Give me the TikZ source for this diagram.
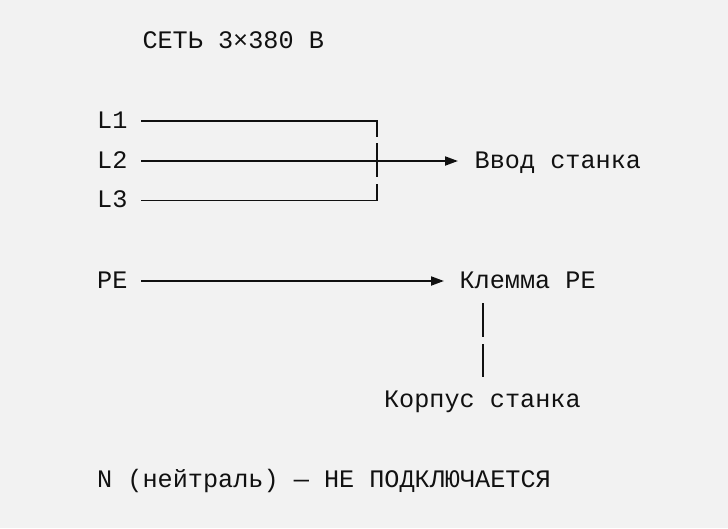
\documentclass[tikz,border=0pt]{standalone}
\usepackage{fontspec}
\setmainfont{Liberation Mono}
\usetikzlibrary{arrows.meta}
\definecolor{bg}{HTML}{F2F2F2}
\definecolor{ink}{HTML}{111111}
\tikzset{
  lbl/.style={anchor=base west, inner sep=0pt, text=ink, font=\fontsize{25.2}{30}\selectfont},
  wire/.style={draw=ink, line width=1.9pt},
  arr/.style={wire, -{Triangle[length=13pt,width=9pt]}},
}
\begin{document}
\begin{tikzpicture}[x=1pt,y=-1pt]
\fill[bg] (0,0) rectangle (728,528);
\useasboundingbox (0,0) rectangle (728,528);
% labels (cell width 15.1, origin 97, baseline 48+40k)
\node[lbl] (title) at (142.3,48.3) {СЕТЬ 3×380 В};
\node[lbl] (L1) at (97,128.3) {L1};
\node[lbl] (L2) at (97,168) {L2};
\node[lbl] (L3) at (97,207.7) {L3};
\node[lbl] (vvod) at (474.5,168) {Ввод станка};
\node[lbl] (PE) at (97,288) {PE};
\node[lbl] (klemma) at (459.4,288) {Клемма PE};
\node[lbl] (korpus) at (383.9,407.8) {Корпус станка};
\node[lbl] (note) at (97,487.8) {N (нейтраль) — НЕ ПОДКЛЮЧАЕТСЯ};
% junction coordinates
\coordinate (s1) at (141,121);
\coordinate (c1) at (377,121);
\coordinate (c1b) at (377,137);
\coordinate (s2) at (141,161);
\coordinate (e2) at (458,161);
\coordinate (jt) at (377,143);
\coordinate (jb) at (377,177.3);
\coordinate (s3) at (141,200.5);
\coordinate (c3) at (377,200.5);
\coordinate (c3t) at (377,184);
\coordinate (sp) at (141,281);
\coordinate (ep) at (444,281);
\coordinate (b1t) at (483,303.3);
\coordinate (b1b) at (483,337.3);
\coordinate (b2t) at (483,344);
\coordinate (b2b) at (483,377.3);
% connectors
\draw[wire] (s1) -- (c1) -- (c1b);
\draw[wire] (jt) -- (jb);
\draw[wire] (s3) -- (c3) -- (c3t);
\draw[arr] (s2) -- (e2);
\draw[arr] (sp) -- (ep);
\draw[wire, line width=2pt] (b1t) -- (b1b);
\draw[wire, line width=2pt] (b2t) -- (b2b);
\end{tikzpicture}
\end{document}
